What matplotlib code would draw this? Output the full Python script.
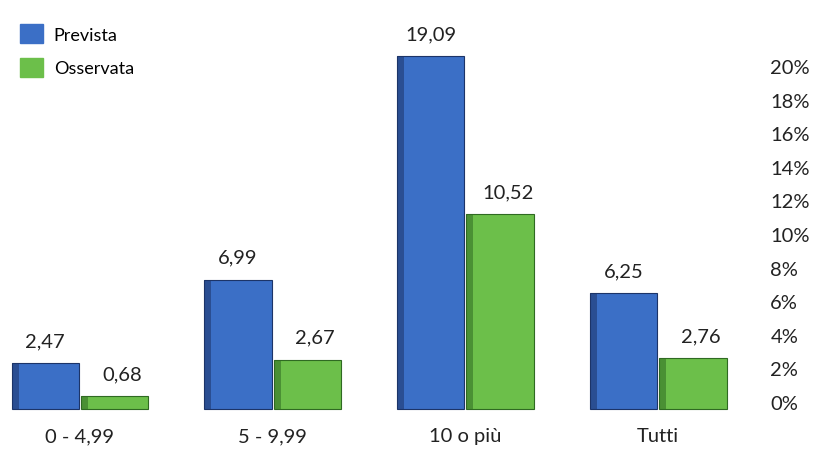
import matplotlib.pyplot as plt
import numpy as np
from matplotlib.patches import Patch

plt.rcParams['font.family'] = ['Lato', 'DejaVu Sans']

categories = ["0 - 4,99", "5 - 9,99", "10 o più", "Tutti"]
prevista = [2.47, 6.99, 19.09, 6.25]
osservata = [0.68, 2.67, 10.52, 2.76]
series_names = ["Prevista", "Osservata"]
pct_ticks = list(range(0, 21, 2))

blue = '#3b6fc6'
blue_dark = '#1c3468'
green = '#6cbf4a'
green_dark = '#2f6a22'

fig = plt.figure(figsize=(8.22, 4.52), dpi=100)
ax = fig.add_axes([0, 0, 1, 1])
ax.set_xlim(-0.415, 3.85)
ax.set_ylim(-2.27, 22.16)
ax.axis('off')

x = np.arange(len(categories))
w = 0.35
off = 0.18

b1 = ax.bar(x - off, prevista, w, color=blue, edgecolor=blue_dark, linewidth=0.8, zorder=2)
b2 = ax.bar(x + off, osservata, w, color=green, edgecolor=green_dark, linewidth=0.8, zorder=2)

# fake 3d: darker left side on each bar
ax.bar(x - off - w / 2 + 0.018, prevista, 0.036, color=blue_dark, alpha=0.55, linewidth=0, zorder=3)
ax.bar(x + off - w / 2 + 0.018, osservata, 0.036, color=green_dark, alpha=0.55, linewidth=0, zorder=3)

for xi, v in zip(x - off, prevista):
    ax.text(xi, v + 0.75, f"{v:.2f}".replace('.', ','), ha='center', va='bottom', fontsize=14.5, color='#222222')
for xi, v in zip(x + off, osservata):
    ax.text(xi + 0.04, v + 0.75, f"{v:.2f}".replace('.', ','), ha='center', va='bottom', fontsize=14.5, color='#222222')

for xi, c in zip(x, categories):
    ax.text(xi, -1.45, c, ha='center', va='center', fontsize=14.5, color='#222222')

ax.legend(handles=[Patch(facecolor=blue, edgecolor=blue), Patch(facecolor=green, edgecolor=green)],
          labels=series_names, loc='upper left', bbox_to_anchor=(0.005, 0.98),
          frameon=False, fontsize=13, handlelength=1.25, handleheight=1.25,
          labelspacing=0.8, handletextpad=0.6)

# percentage axis on the right (own scale, as in the original)
ax2 = fig.add_axes([0, 0, 0.932, 1])
ax2.patch.set_alpha(0)
ax2.set_ylim(-2.92, 23.99)
ax2.set_xticks([])
for s in ax2.spines.values():
    s.set_visible(False)
ax2.yaxis.tick_right()
ax2.set_yticks(pct_ticks)
ax2.set_yticklabels([f"{t}%" for t in pct_ticks], fontsize=14.5, color='#222222')
ax2.tick_params(axis='y', length=0, pad=3)

fig.savefig('out.png', dpi=100)
